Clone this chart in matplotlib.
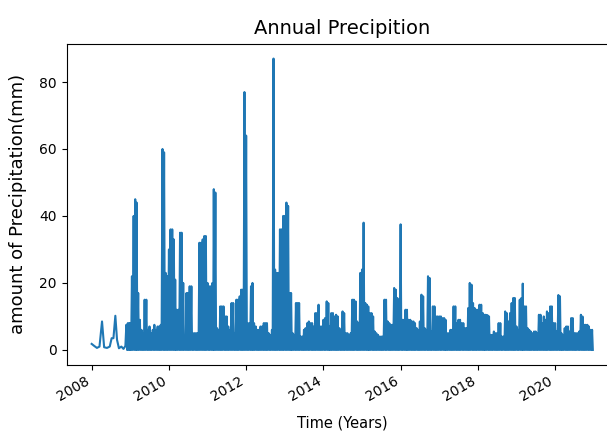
import pandas as pd
import matplotlib
matplotlib.use("Agg")
import matplotlib.pyplot as plt

# first year: sparse gauge readings (mm)
early_dates = ["2008-01-01", "2008-01-25", "2008-02-20", "2008-03-15", "2008-04-08",
               "2008-04-28", "2008-05-25", "2008-06-20", "2008-07-08", "2008-07-25",
               "2008-08-12", "2008-08-28", "2008-09-15", "2008-10-08", "2008-10-28",
               "2008-11-15", "2008-11-24", "2008-12-01", "2008-12-08", "2008-12-15",
               "2008-12-22", "2008-12-27"]
early_vals = [1.8, 1.2, 0.6, 1.0, 8.5, 0.8, 0.6, 1.0, 3.5, 3.5,
              10.2, 3.0, 0.5, 1.0, 0.3, 1.2, 7.5, 0, 8, 0,
              8, 0]

# wettest day in each half month (1st and 16th), 2009-2020
rain_2009 = [8, 22, 40, 45, 44, 17, 9, 6, 5, 15, 15, 6, 7, 5, 6, 7.5, 6, 7, 7, 7.5, 60, 59, 23, 22]
rain_2010 = [30, 36, 36, 33, 21, 12, 12, 35, 35, 20, 4, 17, 17, 19, 19, 5, 5, 5, 5, 32, 32, 33, 34, 34]
rain_2011 = [20, 19, 19, 20, 48, 47, 6.5, 6, 13, 13, 13, 10, 10, 7, 6, 14, 14, 5, 15, 15, 16, 18, 18, 77]
rain_2012 = [64, 8, 8, 19, 20, 8, 7, 6, 6, 7, 7, 8, 8, 8, 5, 4.5, 6, 87, 24, 23, 23, 36, 36, 40]
rain_2013 = [40, 44, 43, 17, 17, 5, 4.5, 14, 14, 14, 4, 4, 6, 6.5, 8, 8.5, 8, 8, 7, 11, 11, 13.5, 7, 7]
rain_2014 = [9, 9.5, 14.5, 14, 7, 11, 11, 10, 10.5, 10, 6.5, 6, 11.5, 11, 5, 5, 4.5, 5, 15, 15, 14.5, 8.5, 8, 23]
rain_2015 = [24, 38, 14, 13.5, 13, 11, 11, 10, 5.5, 5, 4.5, 4, 4, 4, 15, 15, 8.5, 8, 7.5, 7.5, 18.5, 18, 15.5, 15]
rain_2016 = [37.5, 9, 9, 12, 12, 9, 9, 8.5, 8.5, 8, 6.5, 6, 8.5, 16.5, 16, 6.5, 6, 22, 21.5, 5.5, 13, 13, 10, 10]
rain_2017 = [10, 10, 9.5, 9.5, 9, 5, 5, 6, 6, 13, 13, 8, 9, 9, 8, 8, 6.5, 6.5, 12.5, 20, 19.5, 14, 12.5, 12]
rain_2018 = [12, 13.5, 13.5, 11, 10.5, 10.5, 10.4, 10, 4.5, 4.5, 5.5, 5, 5, 8, 8, 4, 4, 11.5, 11, 8.5, 11, 14, 15.5, 15.5]
rain_2019 = [7, 6, 15, 15.5, 19.8, 13, 13, 6.5, 6, 5.5, 5, 5.5, 5.5, 5, 10.5, 10.5, 8, 10, 9, 11.5, 11, 13, 13, 8]
rain_2020 = [8, 5.5, 16.4, 16, 5, 4.5, 6.5, 7, 7, 5.5, 9.5, 9.5, 5, 5, 5, 5.5, 10.5, 10, 7.5, 7.5, 7.5, 7, 6, 6]

years = list(range(2009, 2021))
yearly = [rain_2009, rain_2010, rain_2011, rain_2012, rain_2013, rain_2014,
          rain_2015, rain_2016, rain_2017, rain_2018, rain_2019, rain_2020]

dates = list(early_dates)
vals = list(early_vals)
for yr, halves in zip(years, yearly):
    for m in range(1, 13):
        for h, day in enumerate((1, 16)):
            dates.append(f"{yr}-{m:02d}-{day:02d}")
            vals.append(halves[(m - 1) * 2 + h])
            # dry days in between
            dates.append(f"{yr}-{m:02d}-{day + 7:02d}")
            vals.append(0)

df = pd.DataFrame({"date": pd.to_datetime(dates), "precip": vals})

fig = plt.figure(figsize=(6.07, 4.36), dpi=100)
# axes runs a little past the right edge of the canvas
ax = fig.add_axes([66.6 / 607, 71.5 / 436, 551.3 / 607, 320.5 / 436])
ax.plot(df["date"], df["precip"], color="#1f77b4", linewidth=1.5)

ax.set_title("Annual Precipition", fontsize=14, pad=7)
ax.set_xlabel("Time (Years)", fontsize=10.5, labelpad=8)
ax.set_ylabel("amount of Precipitation(mm)", fontsize=13, labelpad=9)
for lbl in ax.get_xticklabels():
    lbl.set_rotation(30)
    lbl.set_ha("right")

fig.savefig("out.png", dpi=100)
